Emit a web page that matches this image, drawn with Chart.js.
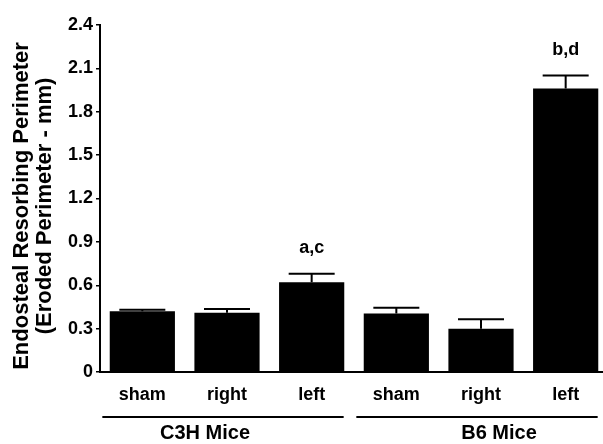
<!DOCTYPE html>
<html>
<head>
<meta charset="utf-8">
<script src="https://cdn.jsdelivr.net/npm/chart.js@4"></script>
<style>
  html, body { margin: 0; padding: 0; background: #fff; overflow: hidden; }
  canvas { display: block; }
</style>
</head>
<body>
<canvas id="myChart" width="608" height="444"></canvas>
<script>
// Datos del gráfico
const labels = ['sham', 'right', 'left', 'sham', 'right', 'left']
const groups = ['C3H Mice', 'B6 Mice']
const groupSize = 3
const means = [0.42, 0.41, 0.62, 0.405, 0.30, 1.96]
const errors = [0.01, 0.025, 0.06, 0.04, 0.065, 0.09]
const marks = ['', '', 'a,c', '', '', 'b,d']
const yTicks = [0, 0.3, 0.6, 0.9, 1.2, 1.5, 1.8, 2.1, 2.4]
const yTitle = ['Endosteal Resorbing Perimeter', '(Eroded Perimeter - mm)']

const family = '"Liberation Sans", Arial, Helvetica, sans-serif'
const bold = size => ({ family: family, size: size, weight: 'bold' })

// Barras de error, letras, grupos y título del eje Y
const extras = {
  id: 'extras',
  afterDatasetsDraw: chart => {
    const ctx = chart.ctx
    const y = chart.scales.y
    const bars = chart.getDatasetMeta(0).data
    ctx.save()
    ctx.strokeStyle = '#000'
    ctx.fillStyle = '#000'
    ctx.lineWidth = 2
    ctx.font = `bold 18px ${family}`
    ctx.textAlign = 'center'
    ctx.textBaseline = 'middle'
    bars.forEach((bar, i) => {
      const top = y.getPixelForValue(means[i])
      const end = y.getPixelForValue(means[i] + errors[i])
      ctx.beginPath()
      ctx.moveTo(bar.x, top)
      ctx.lineTo(bar.x, end)
      ctx.moveTo(bar.x - 23, end)
      ctx.lineTo(bar.x + 23, end)
      ctx.stroke()
      if (marks[i]) ctx.fillText(marks[i], bar.x, end - 26)
    })
    ctx.restore()
  },
  afterDraw: chart => {
    const ctx = chart.ctx
    const x = chart.scales.x
    const shift = [-22, 18]
    ctx.save()
    ctx.strokeStyle = '#000'
    ctx.fillStyle = '#000'
    ctx.lineWidth = 2
    ctx.textAlign = 'center'
    ctx.textBaseline = 'middle'

    // Líneas y nombres de grupo bajo las categorías
    ctx.font = `bold 20px ${family}`
    groups.forEach((g, i) => {
      const first = x.getPixelForValue(i * groupSize)
      const last = x.getPixelForValue(i * groupSize + groupSize - 1)
      ctx.beginPath()
      ctx.moveTo(first - 40, 417)
      ctx.lineTo(last + 32, 417)
      ctx.stroke()
      ctx.fillText(g, (first + last) / 2 + shift[i], 433)
    })

    // Título del eje Y en dos líneas
    ctx.font = `bold 22px ${family}`
    ctx.translate(22, 206)
    ctx.rotate(-Math.PI / 2)
    yTitle.forEach((line, i) => ctx.fillText(line, 0, i * 23))
    ctx.restore()
  }
}

const data = {
  labels: labels,
  datasets: [{
    data: means,
    backgroundColor: '#000',
    borderWidth: 0,
    barPercentage: 0.77,
    categoryPercentage: 1
  }]
}

const config = {
  type: 'bar',
  data: data,
  plugins: [extras],
  options: {
    responsive: false,
    animation: false,
    devicePixelRatio: 1,
    layout: { padding: { top: 25, left: 0, right: 0, bottom: 0 } },
    plugins: {
      legend: { display: false },
      tooltip: { enabled: false }
    },
    scales: {
      x: {
        offset: true,
        grid: { display: false, drawTicks: false },
        border: { display: true, color: '#000', width: 2 },
        ticks: { color: '#000', padding: 12, font: bold(18), maxRotation: 0, autoSkip: false },
        afterFit: scale => { scale.height = 72 }
      },
      y: {
        min: 0,
        max: 2.4,
        afterBuildTicks: scale => { scale.ticks = yTicks.map(v => ({ value: v })) },
        afterFit: scale => { scale.width = 100 },
        grid: { drawOnChartArea: false, drawTicks: true, tickLength: 4, color: '#000', lineWidth: 1.5 },
        border: { display: true, color: '#000', width: 2 },
        ticks: {
          color: '#000',
          padding: 3,
          font: bold(18),
          callback: v => v === 0 ? '0' : v.toFixed(1)
        }
      }
    }
  }
}

const myChart = new Chart(document.getElementById('myChart'), config)
</script>
</body>
</html>
